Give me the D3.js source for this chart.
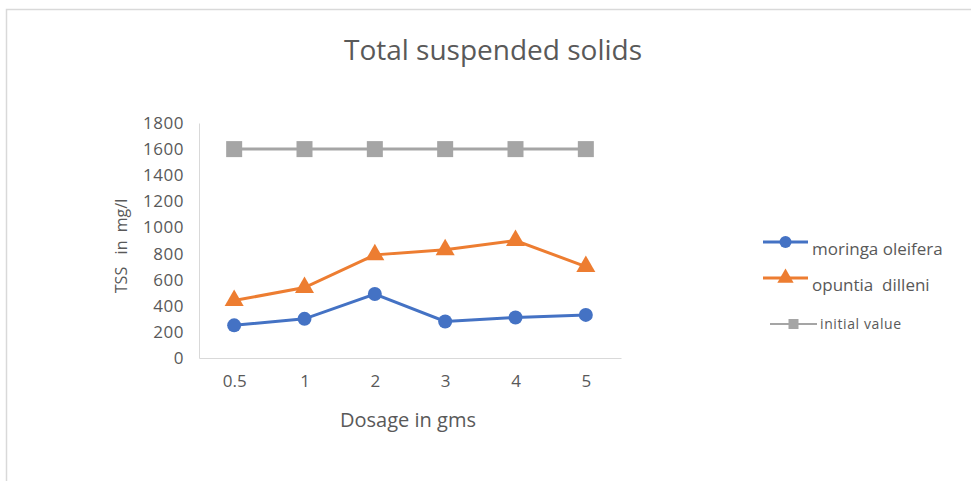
<!DOCTYPE html>
<html>
<head>
<meta charset="utf-8">
<script src="https://cdn.jsdelivr.net/npm/d3@7"></script>
<style>
  body { margin: 0; background: #fff; }
  text { font-family: "Open Sans", "Noto Sans", sans-serif; fill: #595959; }
</style>
</head>
<body>
<svg width="971" height="481"></svg>
<script>
var dosages = ["0.5", "1", "2", "3", "4", "5"];
var moringa = [250, 300, 490, 280, 310, 330];
var opuntia = [440, 540, 790, 830, 900, 700];
var initial = [1600, 1600, 1600, 1600, 1600, 1600];
var yTicks = [0, 200, 400, 600, 800, 1000, 1200, 1400, 1600, 1800];

var series = [
    {name: "moringa oleifera", values: moringa, color: "#4472c4", shape: "circle"},
    {name: "opuntia  dilleni", values: opuntia, color: "#ed7d31", shape: "triangle"},
    {name: "initial value", values: initial, color: "#a5a5a5", shape: "square"}
];

var svg = d3.select("svg");

// chart frame
svg.append("rect")
    .attr("x", 6.5).attr("y", 9.5)
    .attr("width", 990).attr("height", 500)
    .attr("fill", "none").attr("stroke", "#d9d9d9").attr("stroke-width", 1.5);

var xs = d3.scalePoint().domain(dosages).range([199, 621]).padding(0.5);
var ys = d3.scaleLinear().domain([0, 1800]).range([358, 123]);

svg.append("text")
    .attr("x", 493).attr("y", 60)
    .attr("text-anchor", "middle")
    .style("font-size", "28px")
    .text("Total suspended solids");

// y axis
var yAxis = d3.axisLeft(ys).tickValues(yTicks).tickSize(0).tickPadding(15)
    .tickFormat(d3.format("d"));
var gy = svg.append("g").attr("transform", "translate(199,0)").call(yAxis);
gy.select(".domain").attr("stroke", "#d9d9d9");
gy.selectAll("text").style("font-size", "17px").style("letter-spacing", "0.5px")
    .attr("fill", "#595959");

// x axis
var xAxis = d3.axisBottom(xs).tickSize(0).tickPadding(17);
var gx = svg.append("g").attr("transform", "translate(0,358)").call(xAxis);
gx.select(".domain").attr("stroke", "#d9d9d9");
gx.selectAll("text").style("font-size", "17px").attr("fill", "#595959");

svg.append("text")
    .attr("x", 408).attr("y", 427)
    .attr("text-anchor", "middle")
    .style("font-size", "20px")
    .text("Dosage in gms");

svg.append("text")
    .attr("transform", "translate(127,246) rotate(-90)")
    .attr("text-anchor", "middle")
    .style("font-size", "16px")
    .attr("xml:space", "preserve")
    .style("white-space", "pre")
    .text("TSS   in  mg/l");

var line = d3.line()
    .x(function(d, i) { return xs(dosages[i]); })
    .y(function(d) { return ys(d); });

function marker(g, shape, color, size) {
    if (shape == "circle") {
        g.append("circle").attr("r", size).attr("fill", color);
    } else if (shape == "triangle") {
        g.append("path")
            .attr("d", d3.symbol().type(d3.symbolTriangle).size(size * size * 3.2)())
            .attr("fill", color);
    } else {
        g.append("rect")
            .attr("x", -size).attr("y", -size)
            .attr("width", size * 2).attr("height", size * 2)
            .attr("fill", color);
    }
}

// draw initial first so others sit on top
series.slice().reverse().forEach(function(s) {
    svg.append("path")
        .datum(s.values)
        .attr("d", line)
        .attr("fill", "none")
        .attr("stroke", s.color)
        .attr("stroke-width", 3);
    s.values.forEach(function(v, i) {
        var g = svg.append("g")
            .attr("transform", "translate(" + xs(dosages[i]) + "," + ys(v) + ")");
        marker(g, s.shape, s.color, s.shape == "square" ? 8 : 7);
    });
});

// legend
var legend = [
    {y: 242, x1: 763, x2: 808, size: 6, font: 17, tx: 812},
    {y: 278, x1: 763, x2: 808, size: 6, font: 17, tx: 812},
    {y: 324, x1: 770, x2: 817, size: 5, font: 14, tx: 820}
];
series.forEach(function(s, i) {
    var l = legend[i];
    svg.append("line")
        .attr("x1", l.x1).attr("x2", l.x2)
        .attr("y1", l.y).attr("y2", l.y)
        .attr("stroke", s.color).attr("stroke-width", i == 2 ? 2 : 3);
    var g = svg.append("g")
        .attr("transform", "translate(" + ((l.x1 + l.x2) / 2) + "," + l.y + ")");
    marker(g, s.shape, s.color, l.size);
    svg.append("text")
        .attr("x", l.tx).attr("y", l.y + (i == 2 ? 5 : 13))
        .style("font-size", l.font + "px")
        .style("letter-spacing", i == 2 ? "0.6px" : "0px")
        .attr("xml:space", "preserve")
        .style("white-space", "pre")
        .text(s.name);
});
</script>
</body>
</html>
